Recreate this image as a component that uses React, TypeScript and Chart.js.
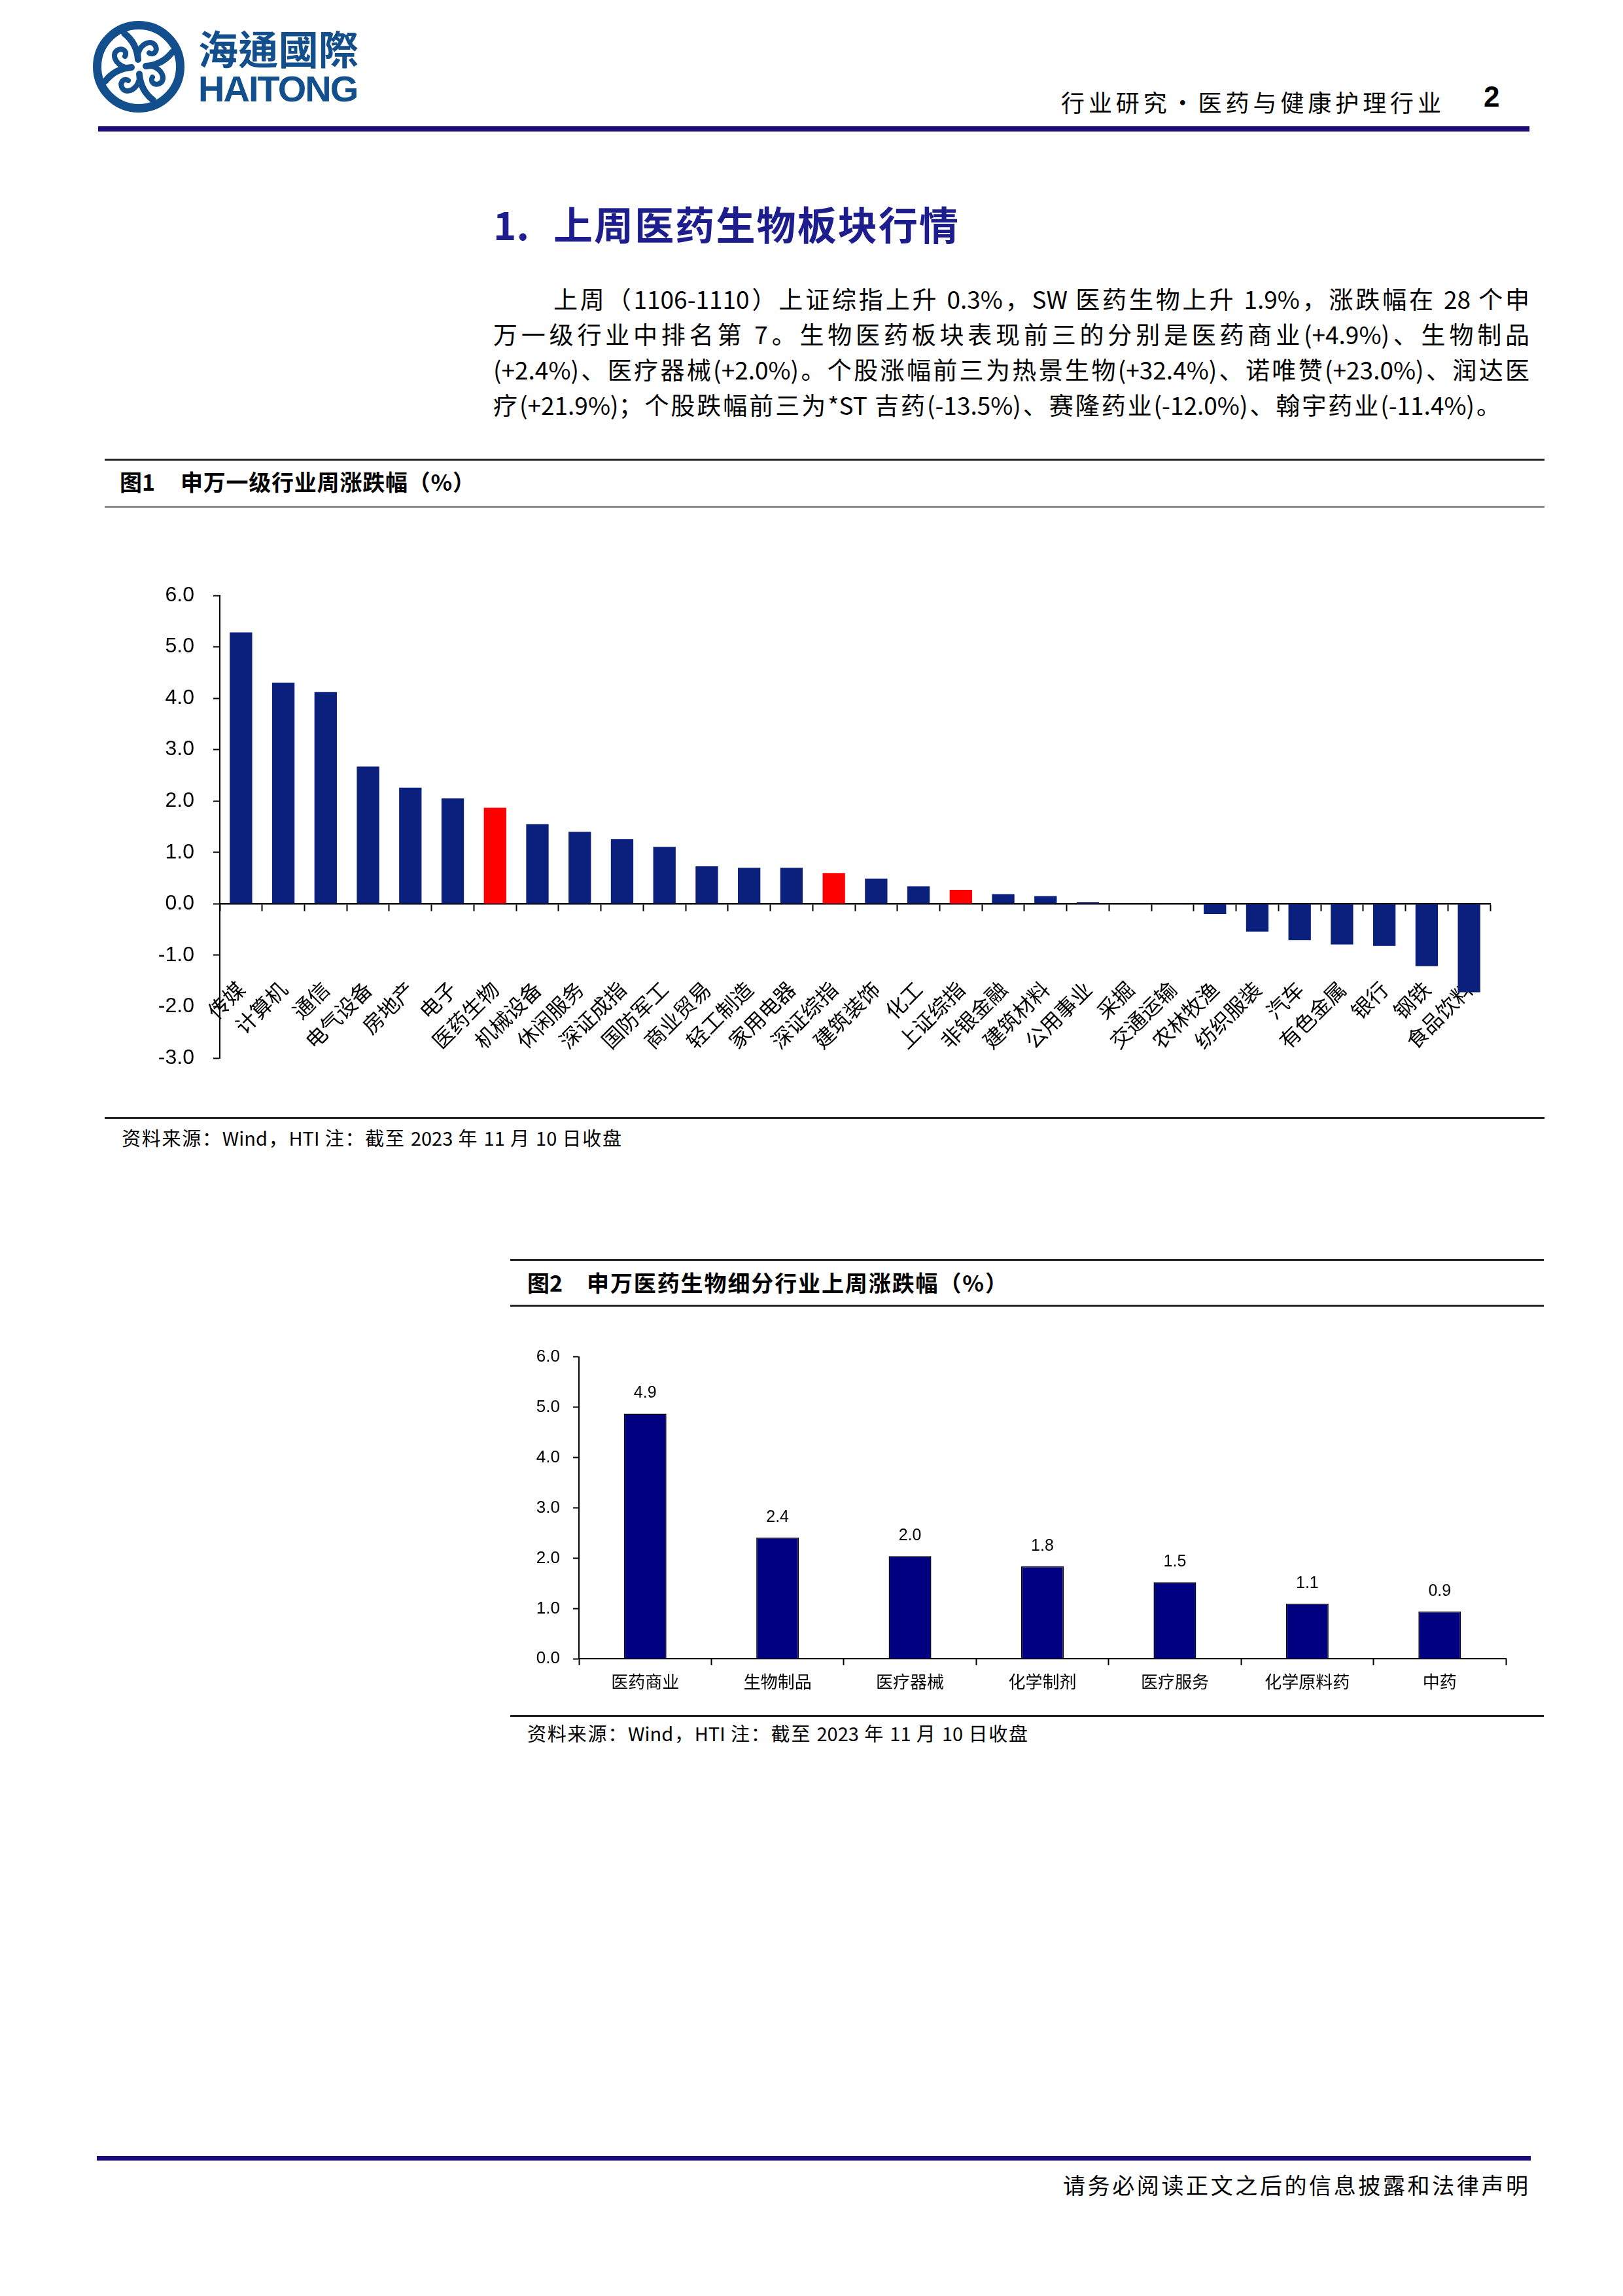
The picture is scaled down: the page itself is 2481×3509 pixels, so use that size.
import React, { useEffect, useRef } from 'react';
import { Chart, registerables } from 'chart.js';

Chart.register(...registerables);

// ---------- data ----------
const industryLabels = [
  '传媒', '计算机', '通信', '电气设备', '房地产', '电子', '医药生物', '机械设备', '休闲服务', '深证成指',
  '国防军工', '商业贸易', '轻工制造', '家用电器', '深证综指', '建筑装饰', '化工', '上证综指', '非银金融', '建筑材料',
  '公用事业', '采掘', '交通运输', '农林牧渔', '纺织服装', '汽车', '有色金属', '银行', '钢铁', '食品饮料',
];
const industryChanges = [
  5.28, 4.30, 4.12, 2.67, 2.26, 2.05, 1.87, 1.55, 1.40, 1.26,
  1.11, 0.73, 0.70, 0.70, 0.60, 0.49, 0.34, 0.27, 0.19, 0.15,
  0.03, 0.00, -0.01, -0.20, -0.54, -0.71, -0.79, -0.82, -1.21, -1.72,
];
const highlightedIndustries = ['医药生物', '深证综指', '上证综指'];
const industryAxisMin = -3;
const industryAxisMax = 6;

const subLabels = ['医药商业', '生物制品', '医疗器械', '化学制剂', '医疗服务', '化学原料药', '中药'];
const subChanges = [4.87, 2.41, 2.04, 1.84, 1.52, 1.10, 0.94];
const subAxisMin = 0;
const subAxisMax = 6;

const paragraphLines = [
  '上周（1106-1110）上证综指上升 0.3%，SW 医药生物上升 1.9%，涨跌幅在 28 个申',
  '万一级行业中排名第 7。生物医药板块表现前三的分别是医药商业(+4.9%)、生物制品',
  '(+2.4%)、医疗器械(+2.0%)。个股涨幅前三为热景生物(+32.4%)、诺唯赞(+23.0%)、润达医',
  '疗(+21.9%)；个股跌幅前三为*ST 吉药(-13.5%)、赛隆药业(-12.0%)、翰宇药业(-11.4%)。',
];

// ---------- styles ----------
const CJK = '"Noto Sans CJK SC", "Noto Sans CJK TC", sans-serif';
const LATIN = '"Liberation Sans", Arial, sans-serif';
const NAVY = '#0b1f7d';
const RED = '#ff0000';
const DEEP_NAVY = '#000080';
const RULE_BLUE = '#1b0c7c';
const LOGO_BLUE = '#124f8c';

type TxtProps = {
  left: number; cy: number; size: number; text: React.ReactNode; width?: number;
  bold?: boolean; color?: string; family?: string; spacing?: number; justify?: boolean;
};

function Txt({ left, cy, size, text, width, bold, color, family, spacing, justify }: TxtProps) {
  const style: React.CSSProperties = {
    position: 'absolute',
    left,
    top: cy - size / 2 - 0.06 * size,
    fontSize: size,
    lineHeight: `${size}px`,
    fontFamily: family || CJK,
    fontWeight: bold ? 700 : 400,
    color: color || '#000',
    letterSpacing: spacing || 0,
    whiteSpace: justify ? 'normal' : 'nowrap',
  };
  if (width !== undefined) style.width = width;
  if (justify) {
    style.textAlign = 'justify';
    (style as any).textAlignLast = 'justify';
  }
  return <div style={style}>{text}</div>;
}

function Rule({ left, top, width, height, color }: { left: number; top: number; width: number; height: number; color: string }) {
  return <div style={{ position: 'absolute', left, top, width, height, background: color }} />;
}

function Logo() {
  const hook = (
    <g>
      <path d="M -22 -51 C -8 -40, -2 -26, -1 -11" fill="none" stroke={LOGO_BLUE} strokeWidth={10} strokeLinecap="round" />
      <path d="M -1 -13 C -3 -33, 20 -45, 26 -31 C 29 -23, 22 -17, 16 -21" fill="none" stroke={LOGO_BLUE} strokeWidth={8} strokeLinecap="round" />
    </g>
  );
  return (
    <svg width={140} height={140} viewBox="-70 -70 140 140" style={{ position: 'absolute', left: 142, top: 32 }}>
      <circle r={63.5} fill="none" stroke={LOGO_BLUE} strokeWidth={13} />
      {[0, 90, 180, 270].map((a) => (
        <g key={a} transform={`rotate(${a})`}>{hook}</g>
      ))}
    </svg>
  );
}

const noSidePadding = (s: any) => { s.paddingLeft = 0; s.paddingRight = 0; };

// ---------- charts ----------
function IndustryChart() {
  const ref = useRef<HTMLCanvasElement | null>(null);
  useEffect(() => {
    if (!ref.current) return;
    const chart = new Chart(ref.current, {
      type: 'bar',
      data: {
        labels: industryLabels,
        datasets: [
          {
            data: industryChanges,
            backgroundColor: industryLabels.map((l) => (highlightedIndustries.includes(l) ? RED : NAVY)),
            borderWidth: 0,
            barPercentage: 0.53,
            categoryPercentage: 1,
          },
        ],
      },
      options: {
        animation: false,
        responsive: false,
        devicePixelRatio: 1,
        layout: { padding: { left: 0, top: 90, right: 72, bottom: 83 } },
        plugins: { legend: { display: false }, tooltip: { enabled: false } },
        scales: {
          x: {
            position: { y: 0 } as any,
            offset: true,
            grid: { display: true, drawOnChartArea: false, drawTicks: true, tickLength: 10, tickWidth: 2, tickColor: '#000', offset: true },
            border: { display: true, color: '#000', width: 2.5 },
            ticks: {
              autoSkip: false,
              maxRotation: 45,
              minRotation: 45,
              padding: 101,
              color: '#000',
              font: { family: CJK, size: 32 },
            },
            afterFit: noSidePadding,
          },
          y: {
            min: industryAxisMin,
            max: industryAxisMax,
            ticks: {
              stepSize: 1,
              padding: 29,
              color: '#000',
              font: { family: LATIN, size: 32 },
              callback: (v: any) => Number(v).toFixed(1),
            },
            grid: { display: true, drawOnChartArea: false, drawTicks: true, tickLength: 10, tickWidth: 2, tickColor: '#000' },
            border: { display: true, color: '#000', width: 2 },
            afterFit: (s: any) => { s.width = 186; },
          },
        },
      },
    });
    return () => chart.destroy();
  }, []);
  return <canvas ref={ref} width={2200} height={880} style={{ position: 'absolute', left: 150, top: 820, width: 2200, height: 880 }} />;
}

function SubIndustryChart() {
  const ref = useRef<HTMLCanvasElement | null>(null);
  useEffect(() => {
    if (!ref.current) return;
    const valueLabels = {
      id: 'valueLabels',
      afterDatasetsDraw(chart: any) {
        const ctx = chart.ctx;
        const meta = chart.getDatasetMeta(0);
        ctx.save();
        ctx.font = `25px ${LATIN}`;
        ctx.fillStyle = '#000';
        ctx.textAlign = 'center';
        ctx.textBaseline = 'middle';
        meta.data.forEach((bar: any, i: number) => {
          ctx.fillText(subChanges[i].toFixed(1), bar.x, bar.y - 31);
        });
        ctx.restore();
      },
    };
    const chart = new Chart(ref.current, {
      type: 'bar',
      data: {
        labels: subLabels,
        datasets: [
          {
            data: subChanges,
            backgroundColor: DEEP_NAVY,
            borderColor: '#000',
            borderWidth: 1.5,
            barPercentage: 0.321,
            categoryPercentage: 1,
          },
        ],
      },
      options: {
        animation: false,
        responsive: false,
        devicePixelRatio: 1,
        layout: { padding: { left: 0, top: 43.5, right: 58, bottom: 64.7 } },
        plugins: { legend: { display: false }, tooltip: { enabled: false } },
        scales: {
          x: {
            position: { y: 0 } as any,
            offset: true,
            grid: { display: true, drawOnChartArea: false, drawTicks: true, tickLength: 9, tickWidth: 2, tickColor: '#000', offset: true },
            border: { display: true, color: '#000', width: 2 },
            ticks: {
              autoSkip: false,
              maxRotation: 0,
              minRotation: 0,
              padding: 10,
              color: '#000',
              font: { family: CJK, size: 26 },
            },
            afterFit: noSidePadding,
          },
          y: {
            min: subAxisMin,
            max: subAxisMax,
            ticks: {
              stepSize: 1,
              padding: 20,
              color: '#000',
              font: { family: LATIN, size: 26 },
              callback: (v: any) => Number(v).toFixed(1),
            },
            grid: { display: true, drawOnChartArea: false, drawTicks: true, tickLength: 9, tickWidth: 2, tickColor: '#000' },
            border: { display: true, color: '#000', width: 2 },
            afterFit: (s: any) => { s.width = 105; },
          },
        },
      },
      plugins: [valueLabels],
    });
    return () => chart.destroy();
  }, []);
  return <canvas ref={ref} width={1580} height={570} style={{ position: 'absolute', left: 780, top: 2030, width: 1580, height: 570 }} />;
}

export default function App() {
  const lineCy = [459, 513, 567, 621];
  return (
    <div style={{ position: 'absolute', left: 0, top: 0, width: 2481, height: 3509, background: '#fff', overflow: 'hidden' }}>
      {/* header */}
      <Logo />
      <Txt left={303} cy={76} size={61} width={245} text="海通國際" color={LOGO_BLUE} family='"Noto Sans CJK TC", "Noto Sans CJK SC", sans-serif' bold justify />
      <div style={{ position: 'absolute', left: 303, top: 107.6, fontFamily: LATIN, fontWeight: 700, fontSize: 56, lineHeight: '56px', letterSpacing: -2, color: LOGO_BLUE, whiteSpace: 'nowrap' }}>HAITONG</div>
      <Txt left={1622} cy={157} size={36} width={581} text="行业研究•医药与健康护理行业" justify />
      <div style={{ position: 'absolute', left: 2268, top: 126, fontFamily: LATIN, fontWeight: 700, fontSize: 44, lineHeight: '44px', color: '#000' }}>2</div>
      <Rule left={150} top={193} width={2188} height={8} color={RULE_BLUE} />

      {/* title */}
      <Txt left={754} cy={345} size={60} text="1." bold color="#1d1d8e" />
      <Txt left={846} cy={345} size={60} width={619} text="上周医药生物板块行情" bold color="#1d1d8e" justify />

      {/* paragraph */}
      {paragraphLines.map((line, i) => (
        <Txt
          key={i}
          left={i === 0 ? 846 : 754}
          cy={lineCy[i]}
          size={37}
          width={i === 0 ? 2338 - 846 : i === 3 ? 2294 - 754 : 2338 - 754}
          text={line}
          justify
        />
      ))}

      {/* figure 1 */}
      <Rule left={160} top={701} width={2201} height={3} color="#222" />
      <Txt left={183} cy={738} size={34} text="图1" bold />
      <Txt left={276} cy={738} size={34} width={450} text="申万一级行业周涨跌幅（%）" bold justify />
      <Rule left={160} top={773} width={2201} height={2.5} color="#888" />
      <IndustryChart />
      <Rule left={160} top={1707} width={2201} height={2.5} color="#222" />
      <Txt left={186} cy={1740} size={29} width={764} text="资料来源：Wind，HTI 注：截至 2023 年 11 月 10 日收盘" justify />

      {/* figure 2 */}
      <Rule left={780} top={1924} width={1580} height={3} color="#222" />
      <Txt left={806} cy={1962} size={34} text="图2" bold />
      <Txt left={897} cy={1962} size={34} width={643} text="申万医药生物细分行业上周涨跌幅（%）" bold justify />
      <Rule left={780} top={1994} width={1580} height={2.5} color="#222" />
      <SubIndustryChart />
      <Rule left={780} top={2621} width={1580} height={2.5} color="#222" />
      <Txt left={806} cy={2650} size={29} width={765} text="资料来源：Wind，HTI 注：截至 2023 年 11 月 10 日收盘" justify />

      {/* footer */}
      <Rule left={148} top={3295} width={2192} height={7} color={RULE_BLUE} />
      <Txt left={1625} cy={3341} size={34} width={711} text="请务必阅读正文之后的信息披露和法律声明" justify />
    </div>
  );
}
